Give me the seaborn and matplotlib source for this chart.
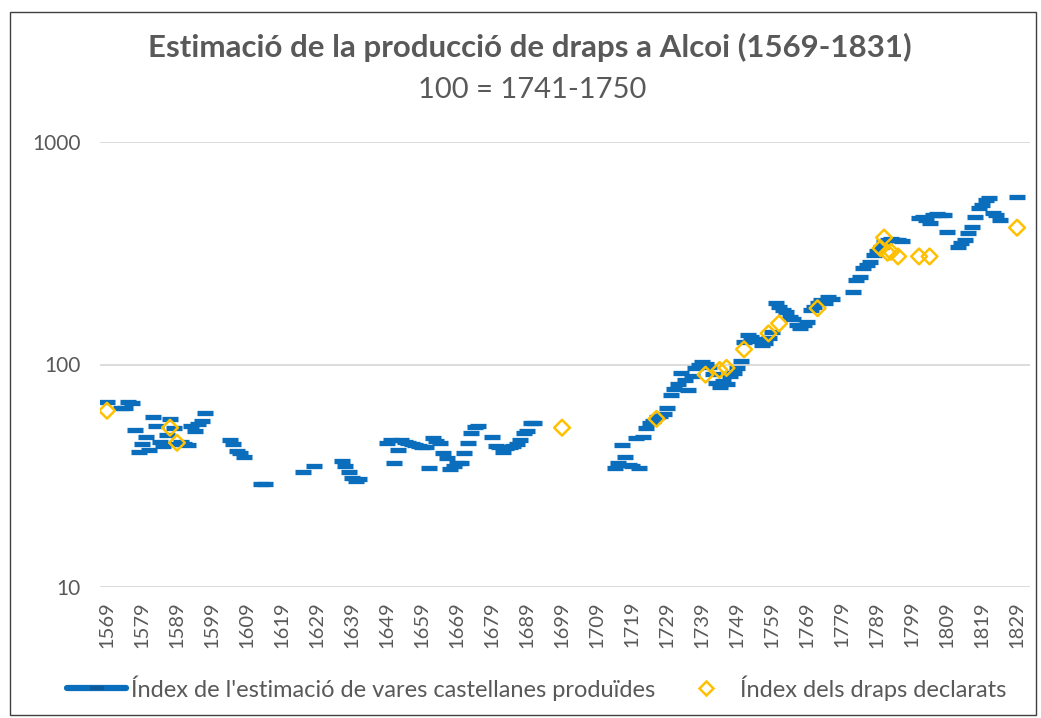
import numpy as np
import pandas as pd
import matplotlib
matplotlib.use("Agg")
import matplotlib.pyplot as plt
from matplotlib.lines import Line2D
from matplotlib.patches import Rectangle
import seaborn as sns

# ---------------- data ----------------
est_years = [1569, 1573, 1574, 1575, 1576, 1577, 1578, 1579, 1580, 1581, 1582, 1583, 1584, 1585,
             1586, 1587, 1588, 1589, 1590, 1591, 1592, 1593, 1594, 1595, 1596, 1597,
             1604, 1605, 1606, 1607, 1608, 1613, 1614, 1625, 1628,
             1636, 1637, 1638, 1639, 1640, 1641,
             1649, 1650, 1651, 1652, 1653, 1654, 1655, 1656, 1657, 1658, 1659, 1660, 1661, 1662,
             1663, 1664, 1665, 1666, 1667, 1668, 1669, 1670, 1671, 1672, 1673, 1674, 1675,
             1679, 1680, 1681, 1682, 1683, 1684, 1685, 1686, 1687, 1688, 1689, 1690, 1691,
             1714, 1715, 1716, 1717, 1718, 1719, 1720, 1721, 1722, 1723, 1724, 1725, 1726, 1727,
             1728, 1729, 1730, 1731, 1732, 1733, 1734, 1735, 1736, 1737, 1738, 1739, 1740, 1741,
             1742, 1743, 1744, 1745, 1746, 1747, 1748, 1749, 1750, 1751, 1752, 1753, 1754, 1755,
             1756, 1757, 1758, 1759, 1760, 1761, 1762, 1763, 1764, 1765, 1766, 1767, 1768, 1769,
             1770, 1771, 1772, 1773, 1774, 1775, 1776,
             1782, 1783, 1784, 1785, 1786, 1787, 1788, 1789, 1790, 1791, 1792, 1793, 1794, 1795, 1796,
             1801, 1802, 1803, 1804, 1805, 1806, 1807, 1808, 1809,
             1812, 1813, 1814, 1815, 1816, 1817, 1818, 1819, 1820, 1821, 1822, 1823, 1824, 1829]
est_values = [68, 64, 64, 68, 67, 51, 40.5, 44, 47, 41.3, 58, 53, 45, 43,
              48, 57, 52, 44, 45, 44, 43.5, 53, 50, 54, 56, 60.5,
              45.6, 44, 41, 40, 38.3, 29, 29, 33, 35,
              37, 35, 33, 31, 30, 30.5,
              44.4, 45.6, 36, 41.3, 46, 45, 44.4, 44, 43.5, 43, 42.7, 42.7, 34.2, 46.6,
              45.5, 44.4, 39.9, 38, 33.8, 35, 36, 36, 39.9, 44.4, 49, 52.5, 53,
              47.2, 43, 42.7, 40.5, 42, 42.7, 43, 44, 45.6, 49, 50, 54.4, 54.4,
              34.2, 36, 43.5, 38.5, 35.3, 35, 46.6, 34.2, 47.3, 51.7, 54.4, 56, 58, 58.5,
              60, 64, 73, 78, 82, 92, 85, 77, 89, 96, 100, 103, 101, 97,
              91, 83, 79, 84, 82, 89, 92, 96, 104, 126, 136, 133, 130, 128,
              122, 125, 132, 140, 189, 181, 176, 172, 164, 160, 150, 146, 150, 155,
              176, 182, 189, 195, 189, 201, 196,
              212, 240, 248, 271, 280, 289, 311, 325, 338, 355, 363, 365, 363, 363, 360,
              455, 461, 446, 432, 470, 477, 470, 469, 395,
              337, 350, 363, 389, 415, 461, 505, 520, 549, 560, 478, 469, 446, 567]

decl_years = [1569, 1587, 1589, 1699, 1726, 1740, 1744, 1746, 1751, 1758, 1761, 1772,
              1790, 1791, 1792, 1793, 1795, 1801, 1804, 1829]
decl_values = [62, 52, 44.5, 52, 57, 90, 94.5, 96.5, 117, 138, 153, 179,
               333, 372, 318, 321, 306, 306, 306, 412]

tick_years = list(range(1569, 1830, 10))
y_ticks = [10, 100, 1000]

title = "Estimació de la producció de draps a Alcoi (1569-1831)"
subtitle = "100 = 1741-1750"
est_label = "Índex de l'estimació de vares castellanes produïdes"
decl_label = "Índex dels draps declarats"

BLUE = "#0A6EBD"
GOLD = "#FFC000"
GREY = "#595959"

# ---------------- plot ----------------
sns.set_theme(style="white")
plt.rcParams["font.family"] = ["Lato", "DejaVu Sans"]

fig = plt.figure(figsize=(10.41, 7.18), dpi=100)
W, H = 1041, 718
ax = fig.add_axes([100 / W, 1 - 587 / H, 930 / W, (587 - 142) / H])

est_df = pd.DataFrame({"year": est_years, "value": est_values})
decl_df = pd.DataFrame({"year": decl_years, "value": decl_values})

for yv in y_ticks:
    ax.axhline(yv, color="#D9D9D9", lw=1.3, zorder=0)

sns.scatterplot(data=est_df, x="year", y="value", ax=ax, marker="_", s=130,
                linewidth=3.8, color=BLUE, zorder=3, legend=False)
sns.scatterplot(data=decl_df, x="year", y="value", ax=ax, marker="D", s=64,
                facecolor="none", edgecolor=GOLD, linewidth=1.8, zorder=4, legend=False)

ax.set_yscale("log")
ax.set_ylim(10, 1000)
ax.set_xlim(1567, 1832.7)
ax.set_yticks(y_ticks)
ax.set_yticklabels([str(v) for v in y_ticks])
ax.yaxis.set_minor_locator(matplotlib.ticker.NullLocator())
ax.set_xticks(tick_years)
ax.set_xticklabels([str(t) for t in tick_years], rotation=90)
ax.tick_params(axis="y", labelsize=15, colors=GREY, length=0, pad=14)
ax.tick_params(axis="x", labelsize=14.5, colors=GREY, length=0, pad=10)
ax.set_xlabel("")
ax.set_ylabel("")
for s in ax.spines.values():
    s.set_visible(False)

fig.text(530 / W, 1 - 47 / H, title, ha="center", va="center", fontsize=22.5,
         fontweight="bold", color=GREY)
fig.text(532 / W, 1 - 90 / H, subtitle, ha="center", va="center", fontsize=21,
         color=GREY)

handles = [Line2D([0], [0], color=BLUE, lw=4.5, marker="_", markersize=10,
                  markeredgewidth=3, markeredgecolor="#0A5A9C"),
           Line2D([0], [0], color=GOLD, lw=0, marker="D", markersize=7.5,
                  markerfacecolor="none", markeredgecolor=GOLD, markeredgewidth=1.8)]
fig.legend(handles, [est_label, decl_label], loc="center", bbox_to_anchor=(537 / W, 1 - 688 / H),
           ncol=2, frameon=False, fontsize=17, labelcolor=GREY, handlelength=2.5,
           columnspacing=0.9, handletextpad=0.2, borderpad=0.2, borderaxespad=0)

fig.patches.append(Rectangle((10 / W, 3 / H), 1026 / W, 703 / H, transform=fig.transFigure,
                             fill=False, edgecolor="#404040", lw=1.0))

fig.savefig("out.png", dpi=100, facecolor="white")
